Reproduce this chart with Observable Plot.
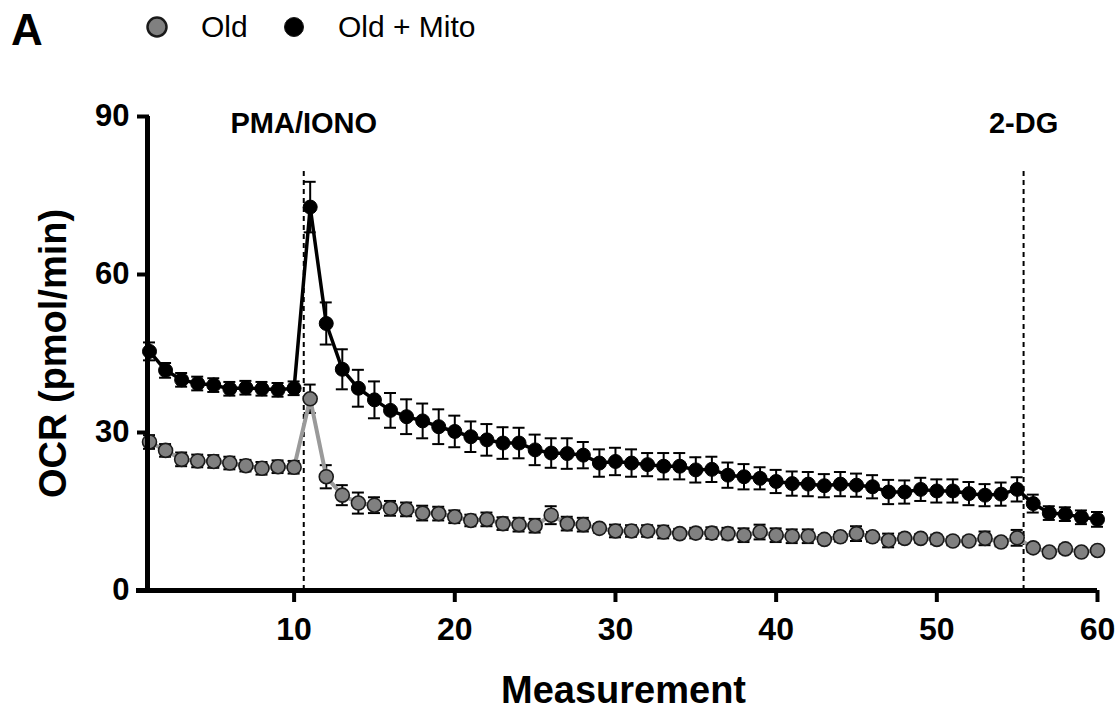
<!DOCTYPE html>
<html>
<head>
<meta charset="utf-8">
<script src="https://cdn.jsdelivr.net/npm/d3@7"></script>
<script src="https://cdn.jsdelivr.net/npm/@observablehq/plot@0.6"></script>
<style>
  html, body { margin: 0; padding: 0; background: #fff; }
  #wrap { width: 1115px; position: relative; font-family: "Liberation Sans", Arial, sans-serif; }
  #legend { display: block; }
</style>
</head>
<body>
<div id="wrap">
  <svg id="legend" width="1115" height="60"></svg>
  <div id="chart"></div>
</div>
<script>
// ---- data ----
const measurements = d3.range(1, 61);

const oldMean = [28.2, 26.6, 24.9, 24.6, 24.5, 24.2, 23.7, 23.2, 23.5, 23.4,
  36.4, 21.6, 18.1, 16.6, 16.2, 15.6, 15.4, 14.7, 14.6, 14.0,
  13.3, 13.5, 12.7, 12.5, 12.3, 14.3, 12.7, 12.5, 11.8, 11.3,
  11.3, 11.3, 11.1, 10.8, 10.9, 10.9, 10.8, 10.5, 11.1, 10.5,
  10.3, 10.3, 9.7, 10.2, 10.8, 10.2, 9.5, 9.9, 9.9, 9.7,
  9.4, 9.4, 9.9, 9.2, 10.0, 8.1, 7.3, 7.9, 7.3, 7.6];
const oldSem = [1.3, 1.2, 1.3, 1.2, 1.2, 1.2, 1.1, 1.2, 1.2, 1.2,
  2.7, 2.2, 1.9, 2.0, 1.5, 1.4, 1.3, 1.4, 1.3, 1.2,
  1.1, 1.3, 1.2, 1.3, 1.3, 1.7, 1.3, 1.3, 0.8, 1.2,
  1.1, 1.1, 1.2, 0.9, 1.0, 1.1, 1.1, 1.3, 1.4, 1.3,
  1.3, 1.3, 0.8, 0.9, 1.4, 0.9, 1.3, 0.9, 0.8, 0.9,
  0.8, 0.8, 1.3, 0.8, 1.5, 0.8, 0.7, 0.8, 0.7, 0.7];

const mitoMean = [45.4, 41.8, 40.0, 39.3, 39.0, 38.3, 38.5, 38.3, 38.1, 38.4,
  72.8, 50.7, 42.0, 38.4, 36.2, 34.2, 33.0, 32.2, 31.1, 30.2,
  29.2, 28.6, 28.0, 28.0, 26.7, 26.1, 26.0, 25.7, 24.2, 24.5,
  24.2, 23.9, 23.6, 23.6, 22.9, 23.0, 21.9, 21.6, 21.3, 20.7,
  20.3, 20.2, 19.9, 20.2, 20.0, 19.7, 18.7, 18.7, 19.2, 18.9,
  18.9, 18.4, 18.1, 18.3, 19.2, 16.5, 14.7, 14.5, 13.9, 13.5];
const mitoSem = [1.7, 1.4, 1.3, 1.3, 1.3, 1.3, 1.3, 1.3, 1.3, 1.3,
  4.8, 4.0, 3.8, 3.5, 3.5, 3.3, 3.3, 3.3, 3.3, 3.0,
  2.9, 3.0, 3.0, 2.9, 2.9, 2.8, 2.9, 2.5, 2.6, 2.6,
  2.6, 2.2, 2.5, 2.5, 2.4, 2.4, 2.4, 2.4, 2.1, 2.2,
  2.3, 2.3, 2.2, 2.3, 2.2, 2.2, 2.3, 2.2, 2.2, 2.2,
  2.2, 2.2, 2.1, 2.2, 2.3, 1.7, 1.3, 1.3, 1.3, 1.4];

const seriesNames = ["Old", "Old + Mito"];
const injections = ["PMA/IONO", "2-DG"];
const injectionAt = [10.6, 55.4];
const xTicks = [10, 20, 30, 40, 50, 60];
const yTicks = [0, 30, 60, 90];

// ---- tables built from the arrays ----
const oldData = measurements.map((m, i) => ({m, v: oldMean[i], lo: oldMean[i] - oldSem[i], hi: oldMean[i] + oldSem[i]}));
const mitoData = measurements.map((m, i) => ({m, v: mitoMean[i], lo: mitoMean[i] - mitoSem[i], hi: mitoMean[i] + mitoSem[i]}));
const injData = injections.map((label, i) => ({label, at: injectionAt[i]}));

const GRAY_FILL = "#808080";
const GRAY_LINE = "#9a9a9a";
const font = '"Liberation Sans", Arial, sans-serif';

function errorMarks(data) {
  return [
    Plot.ruleX(data, {x: "m", y1: "lo", y2: "hi", stroke: "#000", strokeWidth: 2}),
    Plot.ruleY(data, {y: "hi", x1: "m", x2: "m", insetLeft: -6, insetRight: -6, stroke: "#000", strokeWidth: 2}),
    Plot.ruleY(data, {y: "lo", x1: "m", x2: "m", insetLeft: -6, insetRight: -6, stroke: "#000", strokeWidth: 2})
  ];
}

const chart = Plot.plot({
  width: 1115,
  height: 649,
  marginLeft: 149,
  marginRight: 18,
  marginTop: 56,
  marginBottom: 119,
  style: {fontFamily: font, fontWeight: "bold", color: "#000", background: "#fff", overflow: "visible"},
  x: {domain: [1, 60]},
  y: {domain: [0, 90]},
  marks: [
    // injection markers
    Plot.ruleX(injData, {x: "at", y1: 0, y2: 80, stroke: "#000", strokeWidth: 2, strokeDasharray: "5,4"}),
    Plot.text(injData, {x: "at", y: 90, text: "label", lineAnchor: "top", dy: -4, fontSize: 29, fontWeight: "bold", fill: "#000"}),
    // error bars
    ...errorMarks(oldData),
    ...errorMarks(mitoData),
    // lines
    Plot.line(oldData, {x: "m", y: "v", stroke: GRAY_LINE, strokeWidth: 4}),
    Plot.line(mitoData, {x: "m", y: "v", stroke: "#000", strokeWidth: 3.5}),
    // points
    Plot.dot(oldData, {x: "m", y: "v", r: 7, fill: GRAY_FILL, stroke: "#1a1a1a", strokeWidth: 1.6}),
    Plot.dot(mitoData, {x: "m", y: "v", r: 7, fill: "#000", stroke: "#000", strokeWidth: 1}),
    // axes
    Plot.axisX({ticks: xTicks, tickSize: 12, tickPadding: 15, strokeWidth: 4, fontSize: 32, fontWeight: "bold", label: null}),
    Plot.axisY({ticks: yTicks, tickSize: 12, tickPadding: 8, strokeWidth: 4, fontSize: 31, fontWeight: "bold", label: null}),
    Plot.ruleY([0], {stroke: "#000", strokeWidth: 5, insetLeft: -13}),
    Plot.ruleX([1], {y1: 0, y2: 90, stroke: "#000", strokeWidth: 5, dx: -2}),
    // axis titles
    Plot.text(["Measurement"], {frameAnchor: "bottom", textAnchor: "middle", lineAnchor: "bottom", dy: 112, text: d => d, fontSize: 38, fontWeight: "bold", fill: "#000"}),
    Plot.text(["OCR (pmol/min)"], {frameAnchor: "left", textAnchor: "middle", dx: -96, rotate: -90, text: d => d, fontSize: 38, fontWeight: "bold", fill: "#000"})
  ]
});
document.getElementById("chart").appendChild(chart);

// ---- legend (above the plot SVG) ----
const leg = d3.select("#legend").style("font-family", font);
leg.append("text").attr("x", 11).attr("y", 45).attr("font-size", 44).attr("font-weight", "bold").text("A");
const legendX = [157, 294];
seriesNames.forEach((name, i) => {
  leg.append("circle").attr("cx", legendX[i]).attr("cy", 27).attr("r", 9.5)
    .attr("fill", i === 0 ? GRAY_FILL : "#000").attr("stroke", "#1a1a1a").attr("stroke-width", i === 0 ? 2.5 : 1);
  leg.append("text").attr("x", legendX[i] + 44).attr("y", 37).attr("font-size", 30).text(name);
});
</script>
</body>
</html>
